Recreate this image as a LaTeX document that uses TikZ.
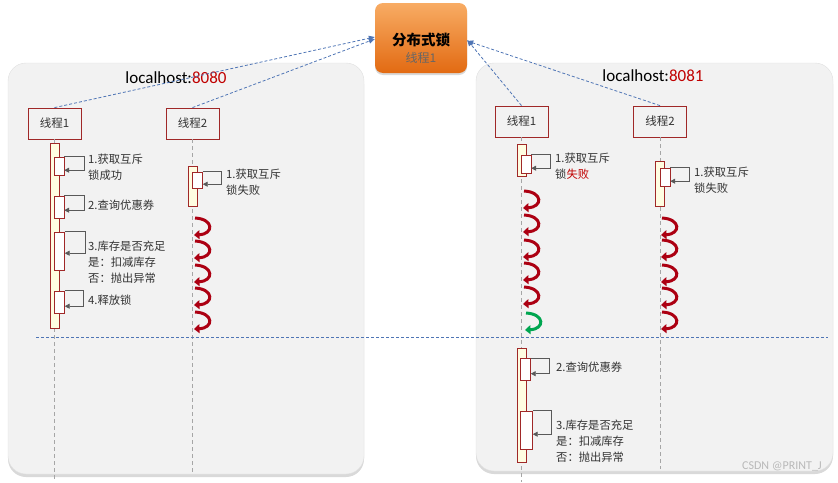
\documentclass[tikz,border=0pt]{standalone}
\usepackage{fontspec}
\setmainfont{Noto Sans CJK SC}
\newfontfamily\latinfont{Carlito}
\usepackage{tikz}
\usetikzlibrary{positioning, arrows.meta, calc, shadows}
\definecolor{hostGray}{RGB}{242,242,242}
\definecolor{lineRed}{RGB}{160,40,40}
\definecolor{barYellow}{RGB}{255,253,225}
\definecolor{loopGray}{RGB}{89,89,89}
\definecolor{retryRed}{RGB}{172,0,18}
\definecolor{okGreen}{RGB}{0,166,80}
\definecolor{linkBlue}{RGB}{79,117,181}
\definecolor{portRed}{RGB}{192,0,0}
\definecolor{lockTop}{RGB}{248,172,100}
\definecolor{lockBottom}{RGB}{226,106,18}

\begin{document}
\begin{tikzpicture}[x=1pt, y=-1pt,
	host/.style={draw=gray!25, fill=hostGray, rounded corners=18pt, drop shadow={opacity=0.3, shadow xshift=0pt, shadow yshift=-3pt}},
	thread/.style={draw=lineRed, thick, minimum width=53pt, minimum height=31pt, font=\fontsize{11.5}{13}\selectfont, text=black!80},
	bar/.style={draw=lineRed, fill=barYellow, minimum width=9pt, inner sep=0pt},
	act/.style={draw=lineRed, fill=white, minimum width=10pt, inner sep=0pt},
	lifeline/.style={gray!70, dash pattern=on 4pt off 3pt},
	selfloop/.style={loopGray, thick, -{Triangle[length=5pt,width=5pt]}},
	note/.style={anchor=west, align=left, inner sep=0pt, font=\fontsize{11.3}{15.8}\selectfont, text=black!80},
	link/.style={linkBlue, thick, dash pattern=on 3pt off 2pt, -{Triangle[length=6pt,width=5pt]}},
	retry/.style={line width=3pt, retryRed, -{Triangle[length=5.5pt,width=9pt]}}]
	\useasboundingbox (0,0) rectangle (838,482);
	\node[host, minimum width=356pt, minimum height=411pt] (host1) at (186,268.5) {};
	\node[host, minimum width=357pt, minimum height=408pt] (host2) at (654.5,267) {};
	\node[font=\latinfont\fontsize{17}{19}\selectfont] (name1) at (176,78) {localhost:\textcolor{portRed}{8080}};
	\node[font=\latinfont\fontsize{17}{19}\selectfont] (name2) at (653,76) {localhost:\textcolor{portRed}{8081}};
	\node[rounded corners=8pt, top color=lockTop, bottom color=lockBottom, minimum width=92pt, minimum height=70pt, drop shadow={opacity=0.3, shadow xshift=0pt, shadow yshift=-2pt}] (lock) at (421,38) {};
	\node[font=\fontsize{14.5}{16}\selectfont\bfseries] (lockName) at (421,40) {分布式锁};
	\node[font=\fontsize{12}{13}\selectfont, text=black!60] (lockOwner) at (421,58) {线程1};
	\node[thread] (t11) at (54.5,123.5) {线程1};
	\node[thread] (t12) at (192.5,123.5) {线程2};
	\node[thread] (t21) at (521.5,121.5) {线程1};
	\node[thread] (t22) at (660,121.5) {线程2};
	\coordinate (e11) at (54.5,482);
	\coordinate (e12) at (192.5,472);
	\coordinate (e21) at (521.5,482);
	\coordinate (e22) at (660,469);
	\draw[lifeline] (t11) -- (e11);
	\draw[lifeline] (t12) -- (e12);
	\draw[lifeline] (t21) -- (e21);
	\draw[lifeline] (t22) -- (e22);
	\draw[link] (t11.north) -- ([yshift=1pt]lock.west);
	\draw[link] (t12.north) -- ([yshift=-1pt]lock.west);
	\draw[link] (t21.north) -- ([yshift=-2pt]lock.east);
	\draw[link] (t22.north) -- ([yshift=-3pt]lock.east);
	\node[bar, minimum height=185pt] (b11) at (54.5,235.5) {};
	\node[act, minimum height=18pt] (a111) at (59,166) {};
	\node[act, minimum height=22pt] (a112) at (59,207) {};
	\node[act, minimum height=38pt] (a113) at (59.5,251) {};
	\node[act, minimum height=22pt] (a114) at (59.5,302) {};
	\draw[selfloop] (a111.north east) -- ++(20,0) |- ([yshift=5pt]a111.south east);
	\draw[selfloop] (a112.north east) -- ++(20,0) |- ([yshift=8pt]a112.south east);
	\draw[selfloop] (a113.north east) -- ++(21,0) |- ([yshift=17pt]a113.south east);
	\draw[selfloop] (a114.north east) -- ++(19,0) |- ([yshift=7pt]a114.south east);
	\node[note] (n111) at (88,167) {1.获取互斥\\锁成功};
	\node[note] (n112) at (88,205) {2.查询优惠券};
	\node[note] (n113) at (88,262) {3.库存是否充足\\是：扣减库存\\否：抛出异常};
	\node[note] (n114) at (88,300) {4.释放锁};
	\node[bar, minimum height=40pt] (b12) at (192.5,186) {};
	\node[act, minimum height=16pt] (a121) at (197.5,180) {};
	\draw[selfloop] (a121.north east) -- ++(19,0) |- ([yshift=4pt]a121.south east);
	\node[note] (n121) at (226,182) {1.获取互斥\\锁失败};
	\foreach \y in {218,241,265,288,312}
		\draw[retry] (195,\y) .. controls (214,\y+1) and (214,\y+16) .. (194,\y+17);
	\node[bar, minimum height=32pt] (b21) at (521.5,160) {};
	\node[act, minimum height=18pt] (a211) at (526,164) {};
	\draw[selfloop] (a211.north east) -- ++(19,0) |- ([yshift=5pt]a211.south east);
	\node[note] (n211) at (555,166) {1.获取互斥\\锁\textcolor{portRed}{失败}};
	\foreach \y in {191,215,240,263,287}
		\draw[retry] (524,\y) .. controls (543,\y+1) and (543,\y+16) .. (523,\y+17);
	\draw[retry, okGreen] (526,313) .. controls (545,314) and (545,329) .. (525,330);
	\node[bar, minimum height=45pt] (b22) at (660,183.5) {};
	\node[act, minimum height=18pt] (a221) at (665,177) {};
	\draw[selfloop] (a221.north east) -- ++(19,0) |- ([yshift=5pt]a221.south east);
	\node[note] (n221) at (694,180) {1.获取互斥\\锁失败};
	\foreach \y in {218,240,265,288,312}
		\draw[retry] (662,\y) .. controls (681,\y+1) and (681,\y+16) .. (661,\y+17);
	\draw[linkBlue, thick, dash pattern=on 3pt off 2pt] (36,337) -- (828,337);
	\node[bar, minimum height=114pt] (b23) at (521.5,405) {};
	\node[act, minimum height=22pt] (a232) at (525.5,369.5) {};
	\node[act, minimum height=38pt, minimum width=12pt] (a233) at (526.5,430) {};
	\draw[selfloop] (a232.north east) -- ++(19,0) |- ([yshift=7pt]a232.south east);
	\draw[selfloop] (a233.north east) -- ++(19,0) |- ([yshift=15pt]a233.south east);
	\node[note] (n232) at (556,367) {2.查询优惠券};
	\node[note] (n233) at (556,441) {3.库存是否充足\\是：扣减库存\\否：抛出异常};
	\node[text=gray!55, font=\latinfont\fontsize{12}{13}\selectfont] (mark) at (782,466) {CSDN @PRINT\_J};
\end{tikzpicture}
\end{document}
